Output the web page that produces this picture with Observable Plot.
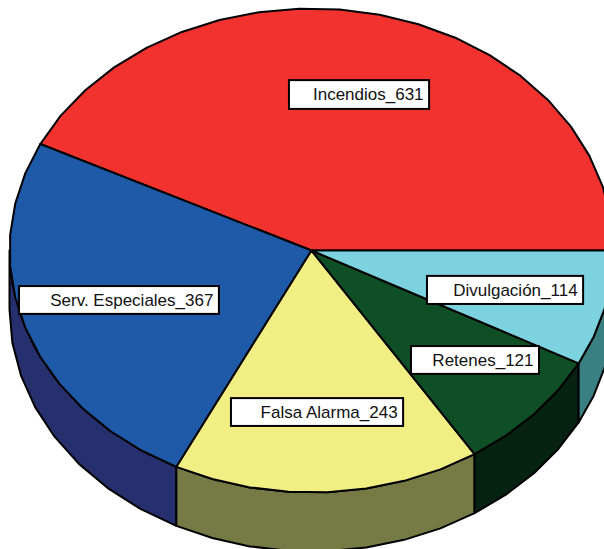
<!DOCTYPE html>
<html><head><meta charset="utf-8">
<script src="https://cdn.jsdelivr.net/npm/d3@7"></script>
<script src="https://cdn.jsdelivr.net/npm/@observablehq/plot@0.6"></script>
<style>html,body{margin:0;padding:0;background:#fff;overflow:hidden}svg{display:block}</style>
</head><body><div id="chart"></div>
<script>
const categories = ["Incendios", "Serv. Especiales", "Falsa Alarma", "Retenes", "Divulgación"];
const values = [631, 367, 243, 121, 114];
const topColors = ["#f2322e", "#1e5aa8", "#f1ee84", "#0e4f26", "#7dd2e0"];
const sideColors = ["#8a1c1a", "#27306f", "#767b45", "#052212", "#3a8083"];
// Label box placement, in pie units (the pie's ellipse is the unit circle)
const boxLeft = [-0.073, -0.967, -0.265, 0.331, 0.384];
const boxRight = [0.391, -0.305, 0.305, 0.755, 0.901];
const boxTop = [0.702, -0.149, -0.612, -0.397, -0.107];
const boxBottom = [0.583, -0.264, -0.727, -0.512, -0.223];

const depth = 59 / 242;
const step = 8;
const total = d3.sum(values);
const starts = Array.from(d3.cumsum([0, ...values]), v => v / total * 360);
const rad = a => a * Math.PI / 180;
const arc = (a0, a1) => {
  const n = Math.max(1, Math.ceil((a1 - a0) / step));
  return d3.range(n + 1).map(i => a0 + (a1 - a0) * i / n);
};

const tops = categories.flatMap((c, i) => {
  const pts = [{x: 0, y: 0}, ...arc(starts[i], starts[i + 1]).map(a => ({x: Math.cos(rad(a)), y: Math.sin(rad(a))})), {x: 0, y: 0}];
  return pts.map(p => ({...p, z: c, color: topColors[i]}));
});
const sides = categories.flatMap((c, i) => {
  const a0 = Math.max(starts[i], 180), a1 = starts[i + 1];
  if (a1 <= 180) return [];
  const as = arc(a0, a1);
  const upper = as.map(a => ({x: Math.cos(rad(a)), y: Math.sin(rad(a))}));
  const lower = as.slice().reverse().map(a => ({x: Math.cos(rad(a)), y: Math.sin(rad(a)) - depth}));
  return [...upper, ...lower, upper[0]].map(p => ({...p, z: c, color: sideColors[i]}));
});
const labels = categories.map((c, i) => ({
  text: `${c}_${values[i]}`, x1: boxLeft[i], x2: boxRight[i], y1: boxBottom[i], y2: boxTop[i]
}));

const plot = Plot.plot({
  width: 604, height: 549,
  margin: 0,
  style: {background: "#fff"},
  x: {axis: null, domain: [-1, 1], range: [9, 613]},
  y: {axis: null, domain: [-1, 1], range: [492, 8]},
  color: {type: "identity"},
  marks: [
    Plot.line(sides, {x: "x", y: "y", z: "z", fill: "color", stroke: "#000", strokeWidth: 2, curve: "linear", strokeLinejoin: "round"}),
    Plot.line(tops, {x: "x", y: "y", z: "z", fill: "color", stroke: "#000", strokeWidth: 2, curve: "linear", strokeLinejoin: "round"}),
    Plot.rect(labels, {x1: "x1", x2: "x2", y1: "y1", y2: "y2", fill: "#fff", stroke: "#000", strokeWidth: 2}),
    Plot.text(labels, {x: "x2", y: d => (d.y1 + d.y2) / 2, text: "text", textAnchor: "end", dx: -6, fill: "#111",
      fontSize: 17, fontFamily: "Liberation Sans, Arial, sans-serif", style: "letter-spacing:1.4px"})
  ]
});
document.getElementById("chart").append(plot);
</script></body></html>
